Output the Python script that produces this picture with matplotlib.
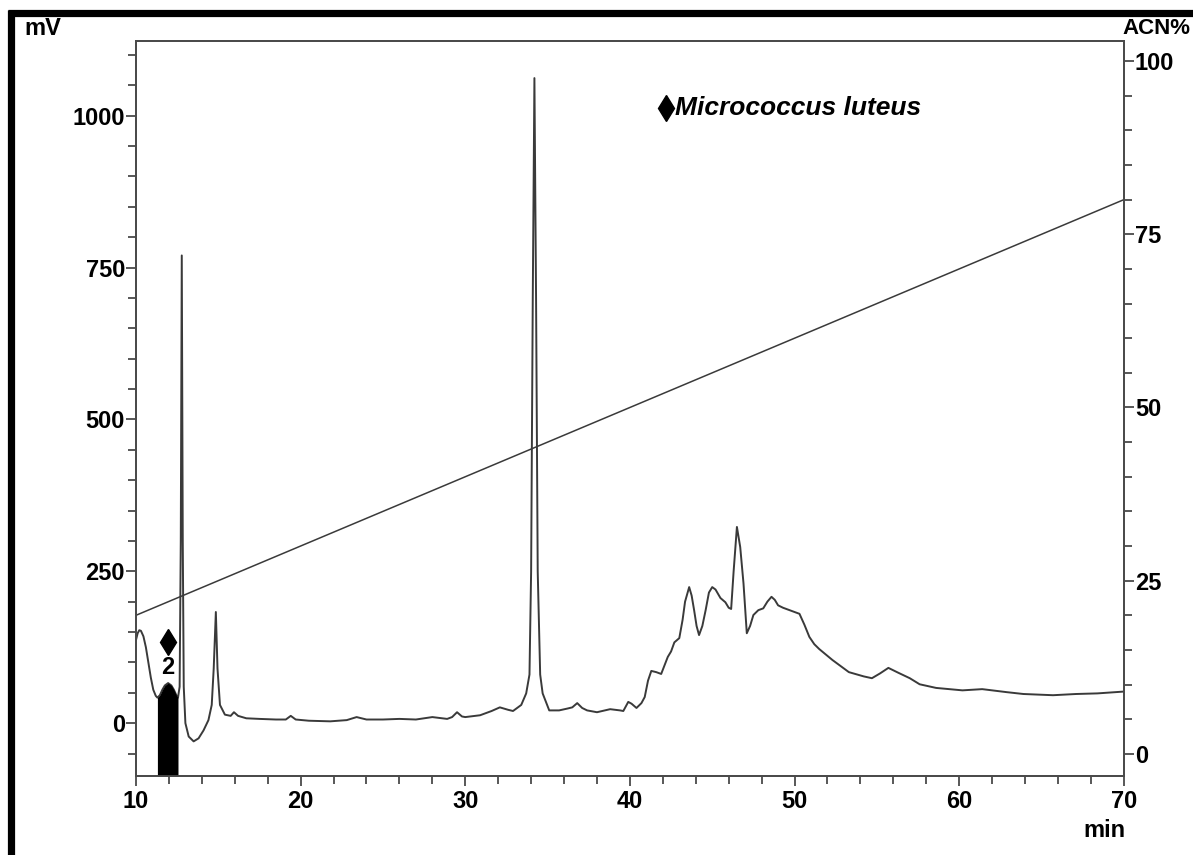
import numpy as np
import matplotlib
matplotlib.use("Agg")
import matplotlib.pyplot as plt
from matplotlib.lines import Line2D
from matplotlib.ticker import MultipleLocator

plt.rcParams['font.family'] = ['Liberation Sans', 'DejaVu Sans']
plt.rcParams['font.weight'] = 'bold'

# chromatogram trace (retention time in min, detector signal in mV)
time_min = [
    10.0, 10.1, 10.2, 10.3, 10.45, 10.6, 10.75, 10.9, 11.05, 11.2, 11.3, 11.45, 11.6,
    11.75, 11.95, 12.15, 12.3, 12.45, 12.55,
    12.65, 12.72, 12.78, 12.84, 12.9, 13.0, 13.2, 13.5, 13.8, 14.1, 14.4, 14.6, 14.72,
    14.85, 14.95, 15.1, 15.4, 15.75, 15.95, 16.2, 16.7, 17.5, 18.5, 19.1, 19.4, 19.7,
    20.5, 21.8, 22.8, 23.4, 24.0, 25.0, 26.0, 27.0, 28.0, 28.9, 29.2, 29.5, 29.8, 30.0,
    30.9, 31.6, 32.1, 32.6, 32.9, 33.4, 33.7, 33.9, 34.0, 34.1, 34.2, 34.3, 34.4, 34.55,
    34.7, 35.1, 35.7, 36.2, 36.5, 36.8, 37.1, 37.4, 38.0, 38.8, 39.4, 39.6, 39.9, 40.1,
    40.4, 40.7, 40.9, 41.1, 41.3, 41.6, 41.9, 42.1, 42.3, 42.5, 42.7, 43.0, 43.2, 43.35,
    43.6, 43.75, 43.9, 44.05, 44.2, 44.4, 44.6, 44.8, 45.0, 45.2, 45.5, 45.8, 46.0, 46.15,
    46.3, 46.5, 46.7, 46.9, 47.05, 47.1, 47.3, 47.5, 47.8, 48.1, 48.35, 48.6, 48.8, 49.0,
    49.3, 49.7, 50.0, 50.3, 50.6, 50.9, 51.2, 51.5, 52.3, 53.3, 54.2, 54.7, 55.2, 55.7,
    56.3, 57.0, 57.6, 58.6, 60.2, 61.4, 62.9, 63.9, 65.7, 67.1, 68.4, 70.0,
]
signal_mv = [
    137, 148, 153, 152, 143, 125, 100, 75, 55, 45, 42, 46, 55,
    62, 66, 62, 55, 46, 42,
    60, 300, 770, 300, 60, 0, -22, -30, -25, -12, 5, 30, 90,
    183, 90, 30, 14, 12, 18, 12, 8, 7, 6, 6, 12, 6,
    4, 3, 5, 10, 6, 6, 7, 6, 10, 7, 10, 18, 11, 10,
    13, 20, 26, 22, 20, 30, 49, 80, 250, 700, 1062, 700, 250, 80,
    49, 21, 21, 24, 26, 33, 25, 21, 18, 23, 21, 20, 35, 32,
    25, 33, 43, 70, 86, 84, 81, 95, 109, 118, 133, 140, 170, 200,
    224, 210, 186, 160, 145, 160, 186, 215, 224, 220, 206, 199, 190, 188,
    250, 323, 290, 230, 170, 148, 160, 178, 186, 189, 200, 208, 203, 194,
    190, 186, 183, 180, 162, 142, 130, 122, 104, 84, 77, 74, 82, 91,
    83, 74, 64, 58, 54, 56, 51, 48, 46, 48, 49, 52,
]

# acetonitrile gradient
gradient_time = [10, 70]
gradient_acn = [20, 80]

# shaded peak no. 2
peak2_start, peak2_end = 11.3, 12.55
peak2_time, peak2_label = 11.95, "2"
legend_text = "Micrococcus luteus"

t = np.array(time_min)
mv = np.array(signal_mv)

fig = plt.figure(figsize=(11.93, 8.55), dpi=100)
ax = fig.add_axes([0.114, 0.0924, 0.828, 0.8596])
ax2 = ax.twinx()

y_lo, y_hi = -87, 1123
ax.set_xlim(10, 70)
ax.set_ylim(y_lo, y_hi)

ax.plot(t, mv, color='#3a3a3a', lw=1.4, zorder=3)
in_peak = (t >= peak2_start) & (t <= peak2_end)
ax.fill_between(t, mv, y_lo, where=in_peak, color='black', lw=0, zorder=4)
ax2.plot(gradient_time, gradient_acn, color='#3a3a3a', lw=1.1)

# peak marker and number
ax.plot([peak2_time], [133], marker='d', ms=13, color='black', zorder=5)
ax.text(peak2_time, 92, peak2_label, ha='center', va='center', fontsize=17,
        fontweight='bold', zorder=5)

# organism legend
ax.plot([42.2], [1013], marker='d', ms=13, color='black', clip_on=False)
ax.text(42.75, 1013, legend_text, ha='left', va='center', fontsize=19,
        fontweight='bold', fontstyle='italic')

# axes styling
ax.xaxis.set_major_locator(MultipleLocator(10))
ax.xaxis.set_minor_locator(MultipleLocator(2))
ax.yaxis.set_major_locator(MultipleLocator(250))
ax.yaxis.set_minor_locator(MultipleLocator(50))
ax2.yaxis.set_major_locator(MultipleLocator(25))
ax2.yaxis.set_minor_locator(MultipleLocator(5))
ax2.set_ylim(-3.2, 102.9)

for a in (ax, ax2):
    for s in a.spines.values():
        s.set_color('#4a4a4a')
        s.set_linewidth(1.3)
    a.tick_params(which='major', length=7, width=1.3, color='#4a4a4a',
                  labelsize=17, pad=1)
    a.tick_params(which='minor', length=5.5, width=1.3, color='#4a4a4a')
ax.tick_params(axis='x', which='major', pad=3)

for lab in ax.get_xticklabels() + ax.get_yticklabels() + ax2.get_yticklabels():
    lab.set_fontweight('bold')

# axis titles
fig.text(0.036, 0.967, "mV", ha='center', va='center', fontsize=17, fontweight='bold')
fig.text(0.9405, 0.967, "ACN%", ha='left', va='center', fontsize=16, fontweight='bold')
fig.text(0.926, 0.029, "min", ha='center', va='center', fontsize=17, fontweight='bold')

# outer frame
fig.add_artist(Line2D([0.0067, 1.0], [0.985, 0.985], color='black', lw=5.2,
                      transform=fig.transFigure, solid_capstyle='butt'))
fig.add_artist(Line2D([0.0092, 0.0092], [0.0, 0.9885], color='black', lw=5.2,
                      transform=fig.transFigure, solid_capstyle='butt'))

fig.savefig("out.png", dpi=100)
